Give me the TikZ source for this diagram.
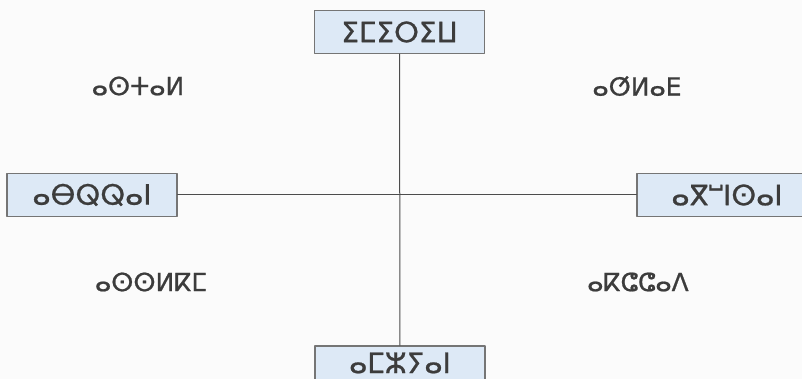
\documentclass[tikz,border=0pt]{standalone}
\usepackage{fontspec}
\newfontfamily\tifnfont[FakeBold=0.8]{DejaVu Sans}
\definecolor{boxfill}{HTML}{DDE9F6}
\definecolor{boxline}{HTML}{757575}
\definecolor{inkgray}{HTML}{3C3C3C}
\begin{document}
\begin{tikzpicture}[x=1pt,y=-1pt,line join=round,line cap=round,
	font=\tifnfont\fontsize{25}{30}\selectfont,
	term/.style={draw=boxline,fill=boxfill,line width=1.1pt,minimum width=170pt,minimum height=43pt,inner sep=0pt,text=inkgray,font=\tifnfont\fontsize{28}{30}\selectfont},
	word/.style={text=inkgray,inner sep=0pt}]
	\fill[white!97!gray] (0,0) rectangle (802,379);
	\useasboundingbox (0,0) rectangle (802,379);
	% four boxes round the cross
	\node[term] (up) at (399.5,32) {ⵉⵎⵉⵔⵉⵡ};
	\node[term] (lt) at (92,195) {ⴰⴱⵕⵕⴰⵏ};
	\node[term,minimum width=180pt] (rt) at (727,195) {ⴰⴳⵯⵏⵙⴰⵏ};
	\node[term,minimum height=34pt] (dn) at (400,363) {ⴰⵎⵣⵢⴰⵏ};
	\draw[black!70,line width=1pt] (up) -- (dn);
	\draw[black!70,line width=1pt] (lt) -- (rt);
	% quadrant words
	\node[word] (nw) at (138,86) {ⴰⵙⵜⴰⵍ};
	\node[word] (ne) at (637,86) {ⴰⵚⵍⴰⴹ};
	\node[word] (sw) at (151,282) {ⴰⵙⵙⵍⴽⵎ};
	\node[word] (se) at (638,282) {ⴰⴽⵛⵛⴰⴷ};
\end{tikzpicture}
\end{document}
